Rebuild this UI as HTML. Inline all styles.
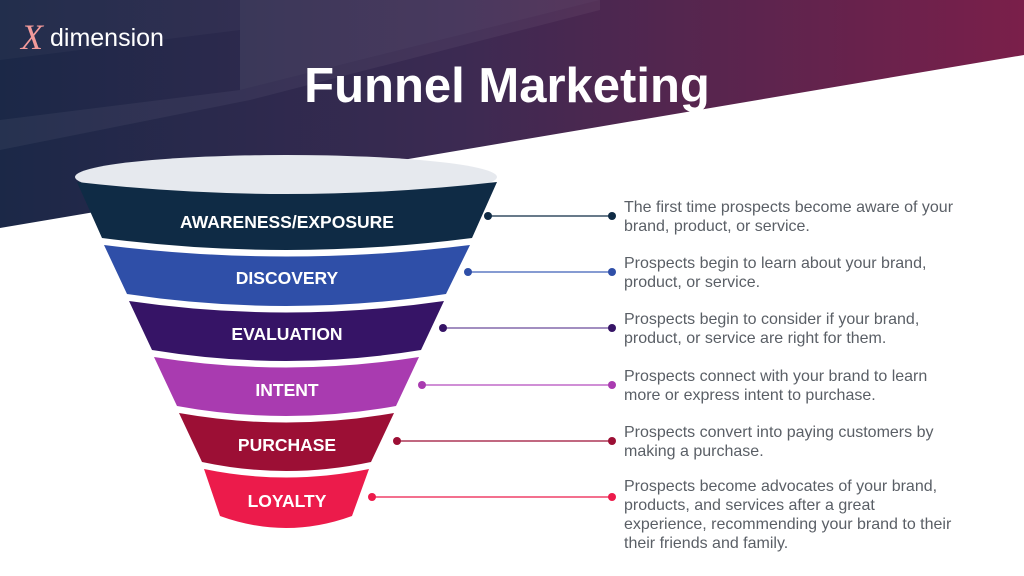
<!DOCTYPE html>
<html><head><meta charset="utf-8">
<style>
html,body{margin:0;padding:0;}
body{width:1024px;height:576px;overflow:hidden;background:#fff;position:relative;font-family:"Liberation Sans",sans-serif;}
svg{position:absolute;left:0;top:0;}
.d{position:absolute;left:624px;font-size:16px;line-height:19px;color:#5a5f66;}
</style></head><body>
<svg width="1024" height="576" viewBox="0 0 1024 576">
<defs>
<linearGradient id="bg" x1="0" y1="0" x2="1" y2="0">
<stop offset="0" stop-color="#1b2847"/>
<stop offset="0.45" stop-color="#3c2a52"/>
<stop offset="1" stop-color="#7a1f4a"/>
</linearGradient>
</defs>
<polygon points="0,0 1024,0 1024,55 0,228" fill="url(#bg)"/>
<polygon points="0,60 240,30 240,0 0,0" fill="#ffffff" opacity="0.03"/>
<polygon points="240,0 600,0 240,90" fill="#ffffff" opacity="0.07"/>
<polygon points="0,150 250,100 600,10 600,0 240,90 0,120" fill="#ffffff" opacity="0.05"/>
<text x="21" y="49" font-family="Liberation Serif,serif" font-style="italic" font-size="36" fill="#f29a9a">X</text>
<text x="50" y="46" font-size="25" fill="#ffffff" font-family="Liberation Sans,sans-serif">dimension</text>
<text x="507" y="102" text-anchor="middle" font-size="49" font-weight="bold" fill="#ffffff" font-family="Liberation Sans,sans-serif">Funnel Marketing</text>

<ellipse cx="286" cy="177" rx="211" ry="22" fill="#e6e9ee"/>
<path d="M77,182 Q286,206 497,182 L472,238 Q286,262 102,238 Z" fill="#0f2b45"/>
<path d="M104,245 Q286,268 470,245 L446,294 Q286,318 127,294 Z" fill="#2f4fa8"/>
<path d="M129,301 Q286,324 444,301 L421,350 Q286,372 152,350 Z" fill="#361466"/>
<path d="M154,357 Q286,378 419,357 L396,406 Q286,426 177,406 Z" fill="#a93bb0"/>
<path d="M179,413 Q286,432 394,413 L371,462 Q286,480 202,462 Z" fill="#9c0f35"/>
<path d="M204,469 Q286,486 369,469 L352,516 Q286,540 220,516 Z" fill="#ec1b4b"/>
<g font-family="Liberation Sans,sans-serif" font-weight="bold" font-size="17.5" fill="#fff" text-anchor="middle">
<text x="287" y="228">AWARENESS/EXPOSURE</text>
<text x="287" y="284">DISCOVERY</text>
<text x="287" y="340">EVALUATION</text>
<text x="287" y="396">INTENT</text>
<text x="287" y="451">PURCHASE</text>
<text x="287" y="507">LOYALTY</text>
</g>
<g stroke-width="1.3">
<line x1="488" y1="216" x2="612" y2="216" stroke="#0f2b45"/>
<line x1="468" y1="272" x2="612" y2="272" stroke="#3f5fb8"/>
<line x1="443" y1="328" x2="612" y2="328" stroke="#6a4a9a"/>
<line x1="422" y1="385" x2="612" y2="385" stroke="#b54cbd"/>
<line x1="397" y1="441" x2="612" y2="441" stroke="#9c0f35"/>
<line x1="372" y1="497" x2="612" y2="497" stroke="#ec1b4b"/>
</g>
<g>
<circle cx="488" cy="216" r="4" fill="#0f2b45"/><circle cx="612" cy="216" r="4" fill="#0f2b45"/>
<circle cx="468" cy="272" r="4" fill="#2f4fa8"/><circle cx="612" cy="272" r="4" fill="#2f4fa8"/>
<circle cx="443" cy="328" r="4" fill="#361466"/><circle cx="612" cy="328" r="4" fill="#361466"/>
<circle cx="422" cy="385" r="4" fill="#a93bb0"/><circle cx="612" cy="385" r="4" fill="#a93bb0"/>
<circle cx="397" cy="441" r="4" fill="#9c0f35"/><circle cx="612" cy="441" r="4" fill="#9c0f35"/>
<circle cx="372" cy="497" r="4" fill="#ec1b4b"/><circle cx="612" cy="497" r="4" fill="#ec1b4b"/>
</g>
</svg>
<div class="d" style="top:198px">The first time prospects become aware of your<br>brand, product, or service.</div>
<div class="d" style="top:254px">Prospects begin to learn about your brand,<br>product, or service.</div>
<div class="d" style="top:310px">Prospects begin to consider if your brand,<br>product, or service are right for them.</div>
<div class="d" style="top:367px">Prospects connect with your brand to learn<br>more or express intent to purchase.</div>
<div class="d" style="top:423px">Prospects convert into paying customers by<br>making a purchase.</div>
<div class="d" style="top:477px">Prospects become advocates of your brand,<br>products, and services after a great<br>experience, recommending your brand to their<br>their friends and family.</div>
</body></html>
